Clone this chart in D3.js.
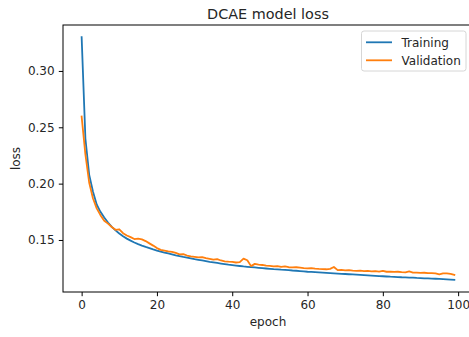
<!DOCTYPE html>
<html>
<head>
<meta charset="utf-8">
<script src="https://cdn.jsdelivr.net/npm/d3@7"></script>
<style>
  html, body { margin: 0; padding: 0; background: #fff; overflow: hidden; }
  svg { display: block; }
  text { font-family: "DejaVu Sans", sans-serif; fill: #262626; }
</style>
</head>
<body>
<svg id="chart" width="469" height="337"></svg>
<script>
// Per-epoch loss values for the DCAE autoencoder
const epochs = d3.range(0, 100);

const trainingLoss = [
  0.3300, 0.2400, 0.2080, 0.1930, 0.1815, 0.1750, 0.1700, 0.1655, 0.1617, 0.1585,
  0.1557, 0.1533, 0.1512, 0.1494, 0.1478, 0.1463, 0.1450, 0.1438, 0.1427, 0.1416,
  0.1406, 0.1397, 0.1388, 0.1380, 0.1372, 0.1364, 0.1357, 0.1350, 0.1344, 0.1337,
  0.1330, 0.1324, 0.1318, 0.1312, 0.1306, 0.1301, 0.1296, 0.1291, 0.1286, 0.1281,
  0.1277, 0.1273, 0.1269, 0.1265, 0.1262, 0.1259, 0.1256, 0.1253, 0.1250, 0.1247,
  0.1244, 0.1241, 0.1239, 0.1236, 0.1234, 0.1232, 0.1229, 0.1227, 0.1224, 0.1221,
  0.1218, 0.1216, 0.1214, 0.1212, 0.1210, 0.1208, 0.1206, 0.1204, 0.1202, 0.1200,
  0.1198, 0.1196, 0.1194, 0.1192, 0.1190, 0.1188, 0.1186, 0.1184, 0.1182, 0.1180,
  0.1178, 0.1176, 0.1174, 0.1173, 0.1171, 0.1169, 0.1168, 0.1166, 0.1165, 0.1163,
  0.1162, 0.1160, 0.1159, 0.1157, 0.1156, 0.1154, 0.1152, 0.1150, 0.1148, 0.1146
];

const validationLoss = [
  0.2595, 0.2260, 0.2010, 0.1870, 0.1780, 0.1720, 0.1670, 0.1645, 0.1615, 0.1590,
  0.1595, 0.1560, 0.1540, 0.1525, 0.1508, 0.1512, 0.1505, 0.1490, 0.1470, 0.1450,
  0.1428, 0.1412, 0.1405, 0.1398, 0.1395, 0.1385, 0.1372, 0.1375, 0.1362, 0.1355,
  0.1350, 0.1345, 0.1347, 0.1338, 0.1332, 0.1325, 0.1330, 0.1318, 0.1310, 0.1307,
  0.1305, 0.1300, 0.1303, 0.1334, 0.1320, 0.1268, 0.1288, 0.1282, 0.1278, 0.1272,
  0.1270, 0.1266, 0.1268, 0.1262, 0.1265, 0.1258, 0.1256, 0.1258, 0.1254, 0.1250,
  0.1248, 0.1250, 0.1245, 0.1243, 0.1242, 0.1240, 0.1244, 0.1260, 0.1232, 0.1234,
  0.1230, 0.1232, 0.1228, 0.1226, 0.1228, 0.1224, 0.1226, 0.1222, 0.1224, 0.1220,
  0.1226, 0.1218, 0.1220, 0.1216, 0.1218, 0.1214, 0.1213, 0.1221, 0.1211, 0.1210,
  0.1208, 0.1209, 0.1206, 0.1205, 0.1204, 0.1195, 0.1203, 0.1204, 0.1200, 0.1190
];

const seriesNames = ["Training", "Validation"];
const seriesColors = ["#1f77b4", "#ff7f0e"];
const xTicks = [0, 20, 40, 60, 80, 100];
const yTicks = [0.15, 0.20, 0.25, 0.30];

const chartTitle = "DCAE model loss";
const xLabel = "epoch";
const yLabel = "loss";

// Axes box
const box = { left: 63, right: 473, top: 25, bottom: 292 };

const svg = d3.select("#chart");

// Domains padded by 5% on each side
const xExt = d3.extent(epochs);
const xPad = (xExt[1] - xExt[0]) * 0.05;
const allVals = trainingLoss.concat(validationLoss);
const yExt = d3.extent(allVals);
const yPad = (yExt[1] - yExt[0]) * 0.05;

const x = d3.scaleLinear()
  .domain([xExt[0] - xPad, xExt[1] + xPad])
  .range([box.left, box.right]);
const y = d3.scaleLinear()
  .domain([yExt[0] - yPad, yExt[1] + yPad])
  .range([box.bottom, box.top]);

// Plot lines
const line = d3.line()
  .x((d, i) => x(epochs[i]))
  .y(d => y(d));

const series = [trainingLoss, validationLoss];
const plot = svg.append("g");
series.forEach((vals, k) => {
  plot.append("path")
    .datum(vals)
    .attr("fill", "none")
    .attr("stroke", seriesColors[k])
    .attr("stroke-width", 1.8)
    .attr("stroke-linejoin", "round")
    .attr("stroke-linecap", "square")
    .attr("d", line);
});

// Axes
const xAxis = d3.axisBottom(x)
  .tickValues(xTicks)
  .tickFormat(d3.format("d"))
  .tickSizeInner(4.2)
  .tickSizeOuter(0)
  .tickPadding(4.2);
const yAxis = d3.axisLeft(y)
  .tickValues(yTicks)
  .tickFormat(d3.format(".2f"))
  .tickSizeInner(4.2)
  .tickSizeOuter(0)
  .tickPadding(4.2);

const gx = svg.append("g")
  .attr("transform", `translate(0,${box.bottom})`)
  .call(xAxis);
const gy = svg.append("g")
  .attr("transform", `translate(${box.left},0)`)
  .call(yAxis);

[gx, gy].forEach(g => {
  g.select(".domain").remove();
  g.selectAll(".tick line").attr("stroke", "#000").attr("stroke-width", 1);
  g.selectAll(".tick text")
    .attr("font-size", 12)
    .attr("font-family", "DejaVu Sans, sans-serif")
    .attr("fill", "#262626");
});

// Spines
svg.append("rect")
  .attr("x", box.left)
  .attr("y", box.top)
  .attr("width", box.right - box.left)
  .attr("height", box.bottom - box.top)
  .attr("fill", "none")
  .attr("stroke", "#000")
  .attr("stroke-width", 1);

// Title and axis labels
const cx = (box.left + box.right) / 2;
svg.append("text")
  .attr("x", cx)
  .attr("y", 18.5)
  .attr("text-anchor", "middle")
  .attr("font-size", 14.4)
  .text(chartTitle);

svg.append("text")
  .attr("x", cx)
  .attr("y", 326)
  .attr("text-anchor", "middle")
  .attr("font-size", 12)
  .text(xLabel);

svg.append("text")
  .attr("transform", `translate(20,${(box.top + box.bottom) / 2}) rotate(-90)`)
  .attr("text-anchor", "middle")
  .attr("font-size", 12)
  .text(yLabel);

// Legend
const legend = svg.append("g");
legend.append("rect")
  .attr("x", 361.5)
  .attr("y", 31)
  .attr("width", 104.5)
  .attr("height", 40)
  .attr("rx", 2.5)
  .attr("fill", "#fff")
  .attr("fill-opacity", 0.8)
  .attr("stroke", "#d6d6d6")
  .attr("stroke-width", 1);

seriesNames.forEach((name, k) => {
  const ly = 42.3 + k * 18;
  legend.append("line")
    .attr("x1", 366)
    .attr("x2", 392)
    .attr("y1", ly)
    .attr("y2", ly)
    .attr("stroke", seriesColors[k])
    .attr("stroke-width", 1.8);
  legend.append("text")
    .attr("x", 401.5)
    .attr("y", ly + 4.3)
    .attr("font-size", 12)
    .text(name);
});
</script>
</body>
</html>
